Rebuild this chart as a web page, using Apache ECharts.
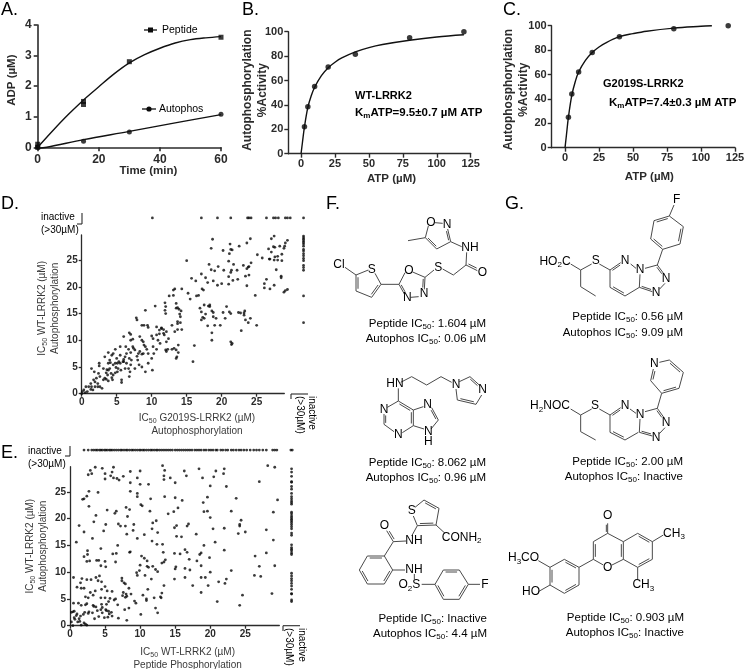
<!DOCTYPE html>
<html><head><meta charset="utf-8">
<style>html,body{margin:0;padding:0;background:#fff}#c{width:745px;height:669px}</style>
<script src="https://cdn.jsdelivr.net/npm/echarts@6/dist/echarts.min.js"></script>
</head><body><div id="c"></div>
<script>
// ---------- Panel A ----------
const aPeptidePts=[[0,0],[0,0.1],[15,1.5],[15,1.4],[30,2.8],[60,3.6]];
const aAutoPts=[[0,0],[15,0.2],[30,0.5],[60,1.08]];
const aPeptideCurve=[[0,0],[5,0.55],[10,1.07],[15,1.55],[20,1.98],[25,2.4],[30,2.76],[35,3.03],[40,3.24],[45,3.41],[50,3.52],[55,3.58],[60,3.62]];
const aAutoCurve=[[0,-0.03],[3,0],[15,0.25],[30,0.52],[45,0.8],[60,1.07]];
// ---------- Panel B ----------
const bPts=[[2.5,22],[5,38.5],[10,55],[20,71],[40,81.5],[80,95],[120,100]];
const bCurve=[[0,0],[1,9],[2.5,22],[5,38],[7.5,47.5],[10,54.5],[15,64],[20,70.5],[25,75],[30,78.5],[40,83.5],[50,87],[60,89.5],[80,93],[100,95.7],[120,97.5]];
// ---------- Panel C ----------
const cPts=[[2.5,25],[5,44],[10,62],[20,78],[40,91],[80,97.5],[120,100]];
const cCurve=[[0,0],[1,10],[2.5,25],[5,43],[7.5,54],[10,62],[15,71.5],[20,78],[25,82.5],[30,86],[40,91],[50,93.5],[60,95.5],[80,98],[100,99.5],[108,100]];
// ---------- Panel D ----------
const dInactiveX=[10.1,17.1,19.4,21.3,23.7,23.9,24.2,26.4,27.4,27.7,28.1,29.1,29.4,29.8,31.7];
const dInactiveRowY=32.9;
const dRightColY=[29.5,29.2,28.9,28.6,28.3,28,27.6,27,26.7,26.2,25.8,25.3,24.9,24,23.6,23.1,18.3,13.3];
const dRightColX=31.7;
const dPts=[[18.7,28.9],[18.5,27.2],[21.2,28],[21.3,27],[21.5,26.9],[21.1,26.2],[20.2,26.8],[22.5,27.6],[23.6,28.2],[24.1,29],[27.1,29],[27.5,29.5],[29.4,28.7],[29.1,28.2],[29,27.6],[28.9,27.2],[28.3,27.6],[27.4,27.5],[27.6,27.4],[26.7,27.1],[27.1,26.5],[28.6,26.1],[28,25.7],[27.6,25.6],[28,25],[27.5,25],[26.9,25.2],[26.8,25.2],[28.6,24.9],[25.1,26],[25.8,25.4],[15,24.9],[15.7,21.6],[16.3,21.1],[17.1,22.4],[18.2,24.2],[17.7,21.7],[18,20.8],[18.5,23.2],[19,23],[19.5,23.8],[20.3,23.1],[21,24.8],[21.7,24.2],[21.4,23.1],[21.3,22.7],[22.2,23.1],[21,21.9],[21.6,21.2],[22.3,21.4],[21,20.5],[20,20.6],[19.4,20.3],[18.8,21.1],[23.1,24],[23.6,23.4],[23.8,23.7],[24.2,24.5],[23.9,23.8],[23.4,22],[23.9,22.2],[23.6,20.2],[24.8,18.4],[26.4,21.4],[26.1,20.6],[26.1,19.8],[26.9,19.6],[27.5,20.3],[28.5,22],[28.5,21.7],[27.8,23.2],[29.4,19.5],[28.9,19],[29.1,19.3],
[17.2,19.6],[17.4,19.4],[16.4,18.3],[16.7,18.4],[15.2,18.8],[15.5,17.7],[14.3,19.6],[13.1,19.4],[13.3,19.6],[12.5,18.3],[13.1,18.4],[11.9,17],[12,16.3],[11.9,15.6],[12,15],[13.5,16.9],[13.5,16],[13.7,16.1],[13.9,15.8],[14.2,15.5],[14,14.9],[14.1,14.4],[13.7,13.5],[14.1,13.3],[13.7,13.1],[14.3,12],[13.7,12],[12.9,12.8],[13.3,11.6],[11.7,12],[11.4,12.3],[11.7,11.3],[11.8,11],
[17.5,16.6],[16.9,16],[17.1,15.3],[17.5,14.1],[17.1,13.8],[17.7,14.9],[17.3,14.3],[18,12.7],[18.3,16.6],[18.3,16.3],[18.1,16.4],[18.6,15.5],[18.8,15.2],[18.8,14.4],[19.2,14.1],[19,12.8],[19.8,12.8],[18.6,11.4],[18.6,10],[20.2,15.2],[20.7,16.3],[20.5,14.1],[21.1,15.3],[21.3,15],[22.4,15.2],[22.7,15.1],[23.2,15.1],[23.3,15.5],[23.2,14.7],[23.4,13.8],[23.8,13.3],[24.1,14.1],[25,12.8],[22.8,11.8],[21.3,9.7],[21.5,9.4],[21.4,9.2],[16.1,9],[15.9,6],
[9.1,15.6],[10.5,16.4],[7.8,14.2],[7.9,13.8],[8.6,12.8],[8.9,12.8],[9.4,12.8],[9.5,12.4],[10.7,12.5],[11.4,12.2],[11.1,11.9],[10,10.8],[10.2,10.3],[10.7,11],[11.1,11.2],[10.9,10],[11.2,9.4],[12.1,11.6],[12.4,10.3],[12.1,9.7],[12.3,8.3],[12,8.2],[12.1,7.9],[12.9,8.3],[13.2,8.5],[13.8,9.1],[13.5,8.2],[13.8,7.7],[13.6,6.9],[13.5,6.6],
[8.3,10.7],[8.6,10],[8.8,9.7],[8.9,9.1],[9.1,8.8],[9.3,8.3],[9.5,7.5],[8.8,7.5],[8.6,7.4],[8.3,7.9],[8.1,7.5],[7.9,7],[8,6.3],[7.6,8.2],[7.3,8.8],[7,10],[6.8,11.4],[7,11.1],[6,10.7],[7.3,10.2],[6.3,8.8],[6.7,8.3],[7,7.7],[7.4,8.5],[10.2,8.8],[10.7,8.3],[10.3,7.5],[10,6.6],[9.5,5.7],[9.1,4.1],[10.1,4.4],[8.6,5],[8.2,5.4],[7.6,4.7],[7,5.4],[6.7,4.7],[6.4,5.7],[6,6],[6,6.4],[5.5,7.2],[4.8,8.3],[5.5,8.8],[4.5,7.5],[5,6.6],[5.3,6],[5.9,6],[5.1,5.7],[5.5,5.7],[6.2,6.9],[6.4,7.5],[6.8,6.6],[7.1,6.3],[4.3,7.2],[3.8,7.7],[3.3,6.9],[4,6.3],[3.8,5.7],[4.1,5.8],[4.5,5.4],[4.8,5.7],[4.9,4.9],[5.2,4.7],[5.6,4.4],[6.2,4.7],[6.9,4.1],[6.8,3.2],[5.7,2.6],[5.7,2.1],[5.1,4.1],[4.8,3.9],[4.5,3.5],[4.2,3.8],[3.8,4.4],[4,4.7],[3.6,4.5],[3.5,3.9],[3.7,3.5],[3.3,2.9],[3.1,2.6],[3.5,2.7],[3.8,2.4],[4.3,3],[4.4,2.6],[2.5,5.2],[3.1,4.7],[2.5,5.7],[1.4,4.7],[1.8,4.1],[2.4,3.8],[2.6,3.2],[2.1,2.9],[1.7,2.6],[1.9,2.2],[2.3,1.9],[1.4,1.3],[1.3,1.9],[1,1.3],[0.6,1.3],[0.3,0.7],[0.1,0.4],[0.5,0.2],[0.8,0.4],[1.3,0.8],[1.6,0.7],[1.9,1.3],[2.3,1.3],[2.6,1.3],[2.9,1],[0,0]];
// ---------- Panel E ----------
const eInactiveX=[2.0,2.6,3.1,3.4,3.7,3.9,4.2,4.4,4.6,4.9,5.1,5.3,5.6,5.8,6.0,6.3,6.6,6.9,7.2,7.4,7.7,8.0,8.2,8.5,8.8,9.0,9.3,9.6,9.9,10.1,10.4,10.6,10.9,11.2,11.5,11.7,12.0,12.3,12.5,12.8,13.1,13.4,13.7,14.0,14.3,14.6,15.0,15.3,15.6,15.9,16.2,16.5,16.8,17.1,17.4,17.8,18.1,18.4,18.7,19.1,19.4,19.8,20.1,20.4,20.8,21.0,21.5,21.8,22.2,22.5,23.0,23.3,23.7,24.1,24.4,24.8,25.2,25.7,26.2,26.6,27.0,27.5,28.0,28.9,29.2,29.5,31.5,31.7];
const eInactiveRowY=32.8;
const eRightColY=[29.3,28.7,27.9,26.9,26.8,26,25.5,24.7,24.1,23.7,23.3,23,22.7,21.2,20.9,20.5,20.2,19.9,19.6,19.3,18.9,18.5,18.1,17.3,16.9,15.1,14.6,14.3,14,13.6,13.3,9.8,9.3,8.8,8.4,7.9,7.4,6.8,6,5.9,4.8,4.5];
const eRightColX=31.6;
const ePts=[[3.6,29.6],[4.6,29.4],[6.2,29.6],[13.2,29.9],[22,29.3],[28.2,29.9],[29.2,29.6],[2.9,29],[2.6,28.2],[3.1,28.4],[5,28.4],[6,28.7],[5,27.4],[5.8,28],[6.2,27.6],[6.7,27.5],[7,27.2],[7.6,27.9],[8.6,28.8],[10,28.9],[13.5,29],[13.4,28],[13.4,27.3],[14.3,27.6],[15,26.7],[16.3,28.9],[16.6,28],[18.4,29.3],[18.9,27.6],[20,26.1],[20.5,27.8],[20.8,28.9],[21.9,28.4],[22.3,26],[27,26.9],[8.6,26.7],[9.6,27.6],[10,26.4],[11.2,26.4],
[2.7,25.1],[4,24.9],[8.6,25.1],[9.6,24.7],[9.6,24.1],[1.8,23.6],[2,23.7],[2.4,24.2],[2.7,22.3],[5.3,21.6],[3.7,20.6],[3.4,19.4],[6.4,21],[6.6,21.4],[8,22.1],[8.5,21.7],[8.2,20.4],[10.1,22.6],[10.3,22.4],[11.5,23.7],[11.4,21.4],[13.5,24.1],[15,23.9],[15.4,22],[14.8,21.3],[14,20.9],[16,23.4],[19,23],[19.6,24],[19.1,21.3],[19.6,21.4],[20,20.2],[20.4,18.1],[23.7,23.8],[23,21.4],[29.6,23.5],[29,21.2],[24.4,19.7],
[1.3,18.7],[2,17.5],[0.9,15.6],[3.2,16.3],[4.8,17.7],[5.1,18.9],[6.9,19],[7.2,18.6],[7.9,18.6],[9.1,18.9],[9,17.8],[8.1,17.1],[9.6,16.3],[10.6,17],[11.7,18.1],[11.8,19.2],[12.3,19.6],[12.5,17.4],[11.7,15.8],[12.4,15.2],[13.2,15.2],[14.9,18.3],[15.2,18.7],[15.2,16.7],[15.9,16.6],[16.7,18.6],[16.9,19],[18,17.1],[19.1,15],[20.7,15.6],[22,18.2],[22,14.1],[24.2,18.6],[24.2,18.9],[24,17.2],[25,17.5],[28,17.9],[29,16],
[6.8,15],[4.4,14.4],[2.5,14],[2.5,13.3],[6.1,13.4],[8.5,13.7],[8.6,13.8],[2,12.9],[2.4,12],[2.8,12.1],[3.8,12.2],[4.1,12.2],[5,12],[4.4,11.2],[5.1,11],[6.5,11.9],[6.6,13.5],[10.2,13],[10.6,12.6],[11,12.1],[11,11.1],[10,11.3],[9.9,10.3],[9.5,9.9],[9.6,9.4],[10.7,9.4],[11.2,10.9],[11.8,11.1],[12.2,10.5],[12.5,10.1],[13.3,13.7],[13.6,12.3],[13.4,11.9],[13.1,11.7],[14.9,13.5],[15.1,11],[15,10.6],[14.9,8.7],[15.7,13.4],[16.4,14.2],[16.7,13.7],[17,12.4],[16.4,10.7],[17.1,10.4],[16.4,9],[17.5,7.5],[18.5,13.3],[18.7,13.6],[18.1,12.1],[18.7,11.2],[18.7,9],[19.3,9],[19.9,12.7],[19.7,7.5],[20,10],[23,10.3],[22.3,8.7],[22.1,7.9],[21.2,8.2],[18.7,6.2],[21,4.5],[24.2,3.8],[24.6,5.7],[26.4,13],[27,11.1],[26.3,9.4],[27.2,9.2],[28,13.6],[29.2,11.2],[28.8,6],
[0.5,9],[1,7.2],[1.5,8],[1.6,7],[1.7,8.8],[2,7],[2.4,8.6],[3,8.6],[3.7,9],[4,8.4],[4.5,8.2],[4.2,9.3],[3.6,6.5],[3.3,5.7],[2.2,5.4],[2.6,5.2],[2.9,6.2],[4.5,6.8],[5,7.3],[5.3,6.5],[5,5.2],[5.2,4],[5.5,4.5],[4.5,4],[4.4,5.2],[5.7,5.1],[6,6.4],[6.3,4.8],[6.5,5],[6.8,3.9],[7.4,8.9],[7.4,8.4],[7.7,8],[7.9,7.8],[8.4,7],[7.6,6.2],[8,5.9],[7.5,5.6],[8.1,5.5],[7.9,5.3],[8.4,3.3],[8.7,5.9],[9.2,4.6],[9.4,4.2],[10.1,2.1],[10.4,5.7],[10.9,5],[10.9,4.7],[11.1,6.8],[11.6,8.7],[12,5.2],[12.2,3.3],[12.5,2.4],[12.9,5.4],[13.1,6.1],[13.4,7.5],[13,5.2],
[0.2,2.5],[0.4,2.6],[0.6,2.7],[0.5,4.2],[0.6,1.5],[0.7,1.2],[0.9,1.9],[1,2.2],[1.2,4.2],[1.6,3.8],[1.5,1.8],[1.3,1.3],[1.4,0.8],[1.9,2.1],[2.1,2.5],[2.2,3.9],[2.4,4.1],[2.7,2.6],[2.6,2.3],[3.3,3.8],[3.4,3.6],[3.7,3.5],[3.9,2.8],[4.4,3],[4.6,3.4],[4.6,2.4],[4.9,1.5],[5.1,3],[5.2,2.8],[5.4,1.6],[5.5,2.7],[5.6,2.2],[5.9,2.5],[6,1.8],[6.9,1.4],[7.8,3],[8.1,1],[0.4,0],[0.2,0.7],[1.1,0.7],[1.6,0.1],[2,0.5],[2.2,0.3],[2.4,0.1],[3.2,2.4],[3.5,1.3],[4.1,1.7]];
// ---------- Tick labels ----------
const aXTicks=[0,20,40,60], aYTicks=[0,1,2,3,4];
const bcXTicks=[0,25,50,75,100,125], bcYTicks=[0,20,40,60,80,100];
const deTicks=[0,5,10,15,20,25];

const FONT='"Liberation Sans",Arial,sans-serif';
const INK='#2b2b2b', GREY='#3a3a3a';

const richSub=(fs,weight,color)=>({
  n:{fontSize:fs,fontWeight:weight,color,fontFamily:FONT,lineHeight:fs+3},
  s:{fontSize:Math.round(fs*0.7),fontWeight:weight,color,fontFamily:FONT,lineHeight:fs+3,verticalAlign:'bottom'}
});
// "IC_50_ rest" => rich string; text between underscores is set as subscript
const subFmt=t=>t.split('\n').map(l=>l.split('_').map((p,i)=>p===''?'':(i%2?`{s|${p}}`:`{n|${p}}`)).join('')).join('\n');

function axisCfg(o){
  return {
    type:'value',gridIndex:o.grid,min:o.min,max:o.max,
    axisLine:{show:true,onZero:false,lineStyle:{color:INK,width:o.lw}},
    axisTick:{show:true,length:o.tl,customValues:o.ticks,lineStyle:{color:INK,width:o.lw}},
    axisLabel:{show:true,customValues:o.ticks,fontFamily:FONT,fontWeight:'bold',fontSize:o.fs,color:INK,margin:o.margin,hideOverlap:false},
    splitLine:{show:false},
    name:subFmt(o.name),nameLocation:'middle',nameGap:o.gap,nameRotate:o.rot||0,nameMoveOverlap:false,
    nameTextStyle:{padding:o.pad||0,rich:richSub(o.nfs,o.nw,o.nc),fontFamily:FONT}
  };
}
const grids=[
 {left:37.7,top:25,width:183.3,height:122.3},
 {left:288.3,top:31.7,width:182.4,height:122},
 {left:551.7,top:25.7,width:183.3,height:122},
 {left:81.7,top:235,width:202.6,height:158.7},
 {left:70,top:466.7,width:209.3,height:159}
].map(g=>({...g,containLabel:false,outerBoundsMode:'none'}));
const xAxes=[
 axisCfg({grid:0,min:0,max:60,ticks:aXTicks,lw:1.6,tl:4,fs:12,margin:6,name:'Time (min)',gap:16,pad:[0,0,0,38],nfs:11.5,nw:'bold',nc:INK}),
 axisCfg({grid:1,min:-9.4,max:125,ticks:bcXTicks,lw:1.4,tl:4,fs:11,margin:5,name:'ATP (µM)',gap:18,pad:[0,0,0,24],nfs:11.5,nw:'bold',nc:INK}),
 axisCfg({grid:2,min:-9.8,max:125,ticks:bcXTicks,lw:1.4,tl:4,fs:11,margin:5,name:'ATP (µM)',gap:22,pad:[0,0,0,12],nfs:11.5,nw:'bold',nc:INK}),
 axisCfg({grid:3,min:0,max:28.95,ticks:deTicks,lw:1.3,tl:3,fs:10,margin:4,name:'IC_50_ G2019S-LRRK2 (µM)\nAutophosphorylation',gap:18,pad:[0,0,0,28],nfs:10,nw:'normal',nc:GREY}),
 axisCfg({grid:4,min:0,max:29.85,ticks:deTicks,lw:1.3,tl:3,fs:10,margin:4,name:'IC_50_ WT-LRRK2 (µM)\nPeptide Phosphorylation',gap:20,pad:[0,0,0,26],nfs:10,nw:'normal',nc:GREY})
];
const yAxes=[
 axisCfg({grid:0,min:0,max:4,ticks:aYTicks,lw:1.6,tl:4,fs:12,margin:6,name:'ADP (µM)',gap:19,rot:90,pad:[0,0,0,12],nfs:11.5,nw:'bold',nc:INK}),
 axisCfg({grid:1,min:0,max:100,ticks:bcYTicks,lw:1.4,tl:4,fs:11,margin:5,name:'Autophosphorylation\n%Activity',gap:18,rot:90,pad:[0,0,0,5],nfs:12,nw:'bold',nc:INK}),
 axisCfg({grid:2,min:0,max:100,ticks:bcYTicks,lw:1.4,tl:4,fs:11,margin:5,name:'Autophosphorylation\n%Activity',gap:21,rot:90,pad:[0,6,0,0],nfs:12,nw:'bold',nc:INK}),
 axisCfg({grid:3,min:0,max:29.7,ticks:deTicks,lw:1.3,tl:3,fs:10,margin:4,name:'IC_50_ WT-LRRK2 (µM)\nAutophosphorylation',gap:20,rot:90,pad:[0,0,0,12],nfs:10,nw:'normal',nc:GREY}),
 axisCfg({grid:4,min:0,max:29.7,ticks:deTicks,lw:1.3,tl:3,fs:10,margin:4,name:'IC_50_ WT-LRRK2 (µM)\nAutophosphorylation',gap:20,rot:90,nfs:10,nw:'normal',nc:GREY})
];
const curve=(i,data)=>({type:'line',xAxisIndex:i,yAxisIndex:i,data,smooth:0.35,showSymbol:false,symbol:'none',clip:false,silent:true,lineStyle:{color:'#111',width:1.4}});
const pts=(i,data,sym,size)=>({type:'scatter',xAxisIndex:i,yAxisIndex:i,data,symbol:sym,symbolSize:size,clip:false,silent:true,itemStyle:{color:'#0a0a0a'}});
const rowPts=(xs,y)=>xs.map(x=>[x,y]);
const colPts=(ys,x)=>ys.map(y=>[x,y]);
const series=[
 curve(0,aPeptideCurve),curve(0,aAutoCurve),
 pts(0,aPeptidePts,'rect',5),pts(0,aAutoPts,'circle',5),
 curve(1,bCurve),pts(1,bPts,'circle',5.5),
 curve(2,cCurve),pts(2,cPts,'circle',5.5),
 pts(3,dPts,'circle',2.8),pts(3,rowPts(dInactiveX,dInactiveRowY),'circle',2.8),pts(3,colPts(dRightColY,dRightColX),'circle',2.8),
 pts(4,ePts,'circle',2.8),pts(4,rowPts(eInactiveX,eInactiveRowY),'circle',2.8),pts(4,colPts(eRightColY,eRightColX),'circle',2.8)
];

// ---------- annotation drawing helpers ----------
const G=[];
function text(t,x,y,o={}){
  const fs=o.fs||12,w=o.w||'normal',c=o.c||GREY;
  G.push({type:'text',silent:true,x,y,rotation:o.rot||0,style:{text:subFmt(t),x:0,y:0,align:o.align||'left',verticalAlign:'middle',rich:richSub(fs,w,c),font:`${w} ${fs}px ${FONT}`}});
}
function seg(x1,y1,x2,y2,c,w){G.push({type:'line',silent:true,shape:{x1,y1,x2,y2},style:{stroke:c,lineWidth:w}});}
// zoom-space molecule: origin ox,oy; coordinates are 3x
function mol(ox,oy,bonds,labels){
  const C='#4a4a4a';
  bonds.forEach(b=>{
    const [a,c,d,e,off]=b;
    seg(ox+a/3,oy+c/3,ox+d/3,oy+e/3,C,1);
    if(off){
      const dx=d-a,dy=e-c,L=Math.hypot(dx,dy),nx=-dy/L*off,ny=dx/L*off,k=0.14;
      seg(ox+(a+dx*k+nx)/3,oy+(c+dy*k+ny)/3,ox+(d-dx*k+nx)/3,oy+(e-dy*k+ny)/3,C,1);
    }
  });
  labels.forEach(l=>text(l[0],ox+l[1]/3,oy+l[2]/3,{fs:12,c:'#333',align:l[3]||'center'}));
}
// panel letters
[['A.',1,10],['B.',242,10],['C.',503,10],['D.',1,204],['E.',1,453],['F.',326,204],['G.',505,204]].forEach(l=>text(l[0],l[1],l[2],{fs:18,c:'#222'}));
// A legend
seg(144,30,157,30,'#111',1.3);G.push({type:'rect',silent:true,shape:{x:148,y:27.5,width:5,height:5},style:{fill:'#0a0a0a'}});
text('Peptide',162,30,{fs:10.5});
seg(142,109,156,109,'#111',1.3);G.push({type:'circle',silent:true,shape:{cx:149,cy:109,r:2.6},style:{fill:'#0a0a0a'}});
text('Autophos',159,109,{fs:10.5});
// B / C annotations
text('WT-LRRK2',355,96,{fs:11,w:'bold',c:INK});
text('K_m_ATP=9.5±0.7 µM ATP',355,113,{fs:11.5,w:'bold',c:INK});
text('G2019S-LRRK2',603,84,{fs:11,w:'bold',c:INK});
text('K_m_ATP=7.4±0.3 µM ATP',609,103,{fs:11.5,w:'bold',c:INK});
// D brackets and labels
seg(77,224,82,224,INK,1.1);seg(82,213,82,224,INK,1.1);
text('inactive',41,217.7,{fs:10});text('(>30µM)',41,230,{fs:10});
seg(291,394,308,394,INK,1.1);seg(291,394,291,399,INK,1.1);
text('inactive',312,396,{fs:10,rot:-Math.PI/2});text('(>30µM)',299.5,396,{fs:10,rot:-Math.PI/2});
// E brackets and labels
seg(65,456,70,456,INK,1.1);seg(70,446,70,456,INK,1.1);
text('inactive',28,451,{fs:10});text('(>30µM)',28,464,{fs:10});
seg(283,625.7,300,625.7,INK,1.1);seg(283,625.7,283,631,INK,1.1);
text('inactive',302,628,{fs:10,rot:-Math.PI/2});text('(>30µM)',289,628,{fs:10,rot:-Math.PI/2});
// compound captions
[['Peptide IC_50_: 1.604 µM',486,324],['Autophos IC_50_: 0.06 µM',486,339],
 ['Peptide IC_50_: 8.062 µM',486,463],['Autophos IC_50_: 0.96 µM',486,478],
 ['Peptide IC_50_: Inactive',487,619],['Autophos IC_50_: 4.4 µM',487,634],
 ['Peptide IC_50_: 0.56 µM',683,317],['Autophos IC_50_: 9.09 µM',683,333],
 ['Peptide IC_50_: 2.00 µM',683,462],['Autophos IC_50_: Inactive',683,477],
 ['Peptide IC_50_: 0.903 µM',684,618],['Autophos IC_50_: Inactive',684,633]
].forEach(c=>text(c[0],c[1],c[2],{fs:11.5,c:'#333',align:'right'}));
// F1
mol(320,190,[[325,108,316,143],[345,98,368,100],[383,117,392,155,5],[392,155,350,177],[350,177,316,143,5],[316,143,264,152],[392,155,425,170],[440,187,438,225],[438,225,472,242,-6],[438,225,400,255],[400,255,368,237],[342,240,315,262],[315,262,278,246],[255,248,237,283],[237,283,253,312,-5],[272,322,296,320],[313,298,315,262,-5],[237,283,183,283],[183,283,165,250],[145,240,108,255],[108,255,108,303,-6],[108,303,155,322],[155,322,183,283,-6],[75,232,108,255]],
 [['O',333,97],['N',381,103],['NH',450,174],['O',487,247],['S',355,233],['O',267,242],['N',262,323],['N',312,310],['S',155,238],['Cl',57,223]]);
// F2
mol(370,365,[[92,52,125,35],[125,35,170,60],[170,60,213,35],[213,35,245,52],[268,50,300,35],[300,35,330,62,5],[335,90,318,118],[318,118,262,105,6],[262,105,258,72],[85,70,85,108],[85,108,52,127],[42,147,42,178,-5],[42,178,72,200],[97,203,130,182],[130,182,130,135,-6],[130,135,85,108,-6],[130,135,160,125],[185,128,205,165,5],[205,165,183,192],[162,192,130,182]],
 [['HN',75,57],['N',258,60],['N',338,75],['N',42,135],['N',85,208],['N',173,118],['N',175,200],['H',175,230]]);
// F3
mol(320,430,[[285,232,312,210],[312,210,357,235,6],[357,235,348,285],[348,285,292,287,6],[292,287,280,258],[348,285,375,310],[292,287,275,318],[258,333,220,335],[220,335,200,302,6],[220,335,193,378],[193,378,142,378,-6],[142,378,118,420],[118,420,142,462,-6],[142,462,193,462],[193,462,218,420,-6],[218,420,193,378],[218,420,255,420],[283,432,283,448],[305,463,345,463],[345,463,370,420],[370,420,418,420,6],[418,420,445,463],[445,463,418,508,6],[418,508,370,508],[370,508,345,463,6],[445,463,480,463]],
 [['S',275,242],['CONH_2_',425,322],['NH',282,332],['O',193,288],['NH',282,419],['O_2_S',268,465],['F',495,463]]);
// G1
mol(530,190,[[432,45,418,78],[418,78,372,92,-6],[372,92,362,147],[362,147,398,178,-6],[398,178,450,162],[450,162,460,110,-6],[460,110,418,78],[398,178,382,225],[345,235,382,225],[382,225,402,252,5],[405,280,388,298],[367,305,328,292,5],[328,292,330,253],[318,235,302,222],[272,218,240,240,-5],[240,240,240,292],[240,292,285,318,-6],[285,318,328,292],[240,240,208,222],[185,222,152,240],[152,240,122,222],[152,240,152,290],[152,290,197,318]],
 [['F',440,30],['N',330,240],['N',408,265],['N',378,308],['N',285,212],['S',197,213],['HO_2_C',75,215]]);
// G2
mol(530,345,[[388,52,418,45],[418,45,460,82,6],[460,82,447,130],[447,130,395,145,6],[395,145,362,107],[362,107,370,72,6],[395,145,382,190],[345,200,382,190],[382,190,402,218,5],[405,248,388,266],[367,273,328,262,5],[328,262,330,222],[318,205,300,192],[272,188,240,210,-5],[240,210,240,262],[240,262,285,285,-6],[285,285,325,262],[240,210,208,192],[185,192,152,210],[152,210,122,192],[152,210,152,260],[152,260,197,285]],
 [['N',373,55],['N',330,208],['N',408,232],['N',378,278],['N',285,182],['S',195,182],['H_2_NOC',60,183]]);
// G3
mol(530,500,[[233,70,233,100,4],[233,100,190,125],[190,125,190,178,-6],[190,178,220,195],[246,195,280,178],[280,178,280,125,-6],[280,125,233,100],[280,125,323,100],[323,100,367,125,6],[367,125,367,178],[367,178,323,202,6],[323,202,280,178],[367,125,400,105],[323,202,323,238],[190,178,147,202],[147,202,103,178,-6],[103,178,60,202],[60,202,60,255,-6],[60,255,103,280],[103,280,147,255,-6],[147,255,147,202],[60,202,25,182],[60,255,25,275]],
 [['O',233,47],['O',233,202],['CH_3_',432,100],['CH_3_',340,255]]);
text('H_3_CO',508,558,{fs:12,c:'#333'});
text('HO',522,592,{fs:12,c:'#333'});

const chart=echarts.init(document.getElementById('c'),null,{renderer:'canvas'});
chart.setOption({animation:false,backgroundColor:'#fff',grid:grids,xAxis:xAxes,yAxis:yAxes,series,graphic:{elements:G},tooltip:{show:false}});
</script></body></html>
